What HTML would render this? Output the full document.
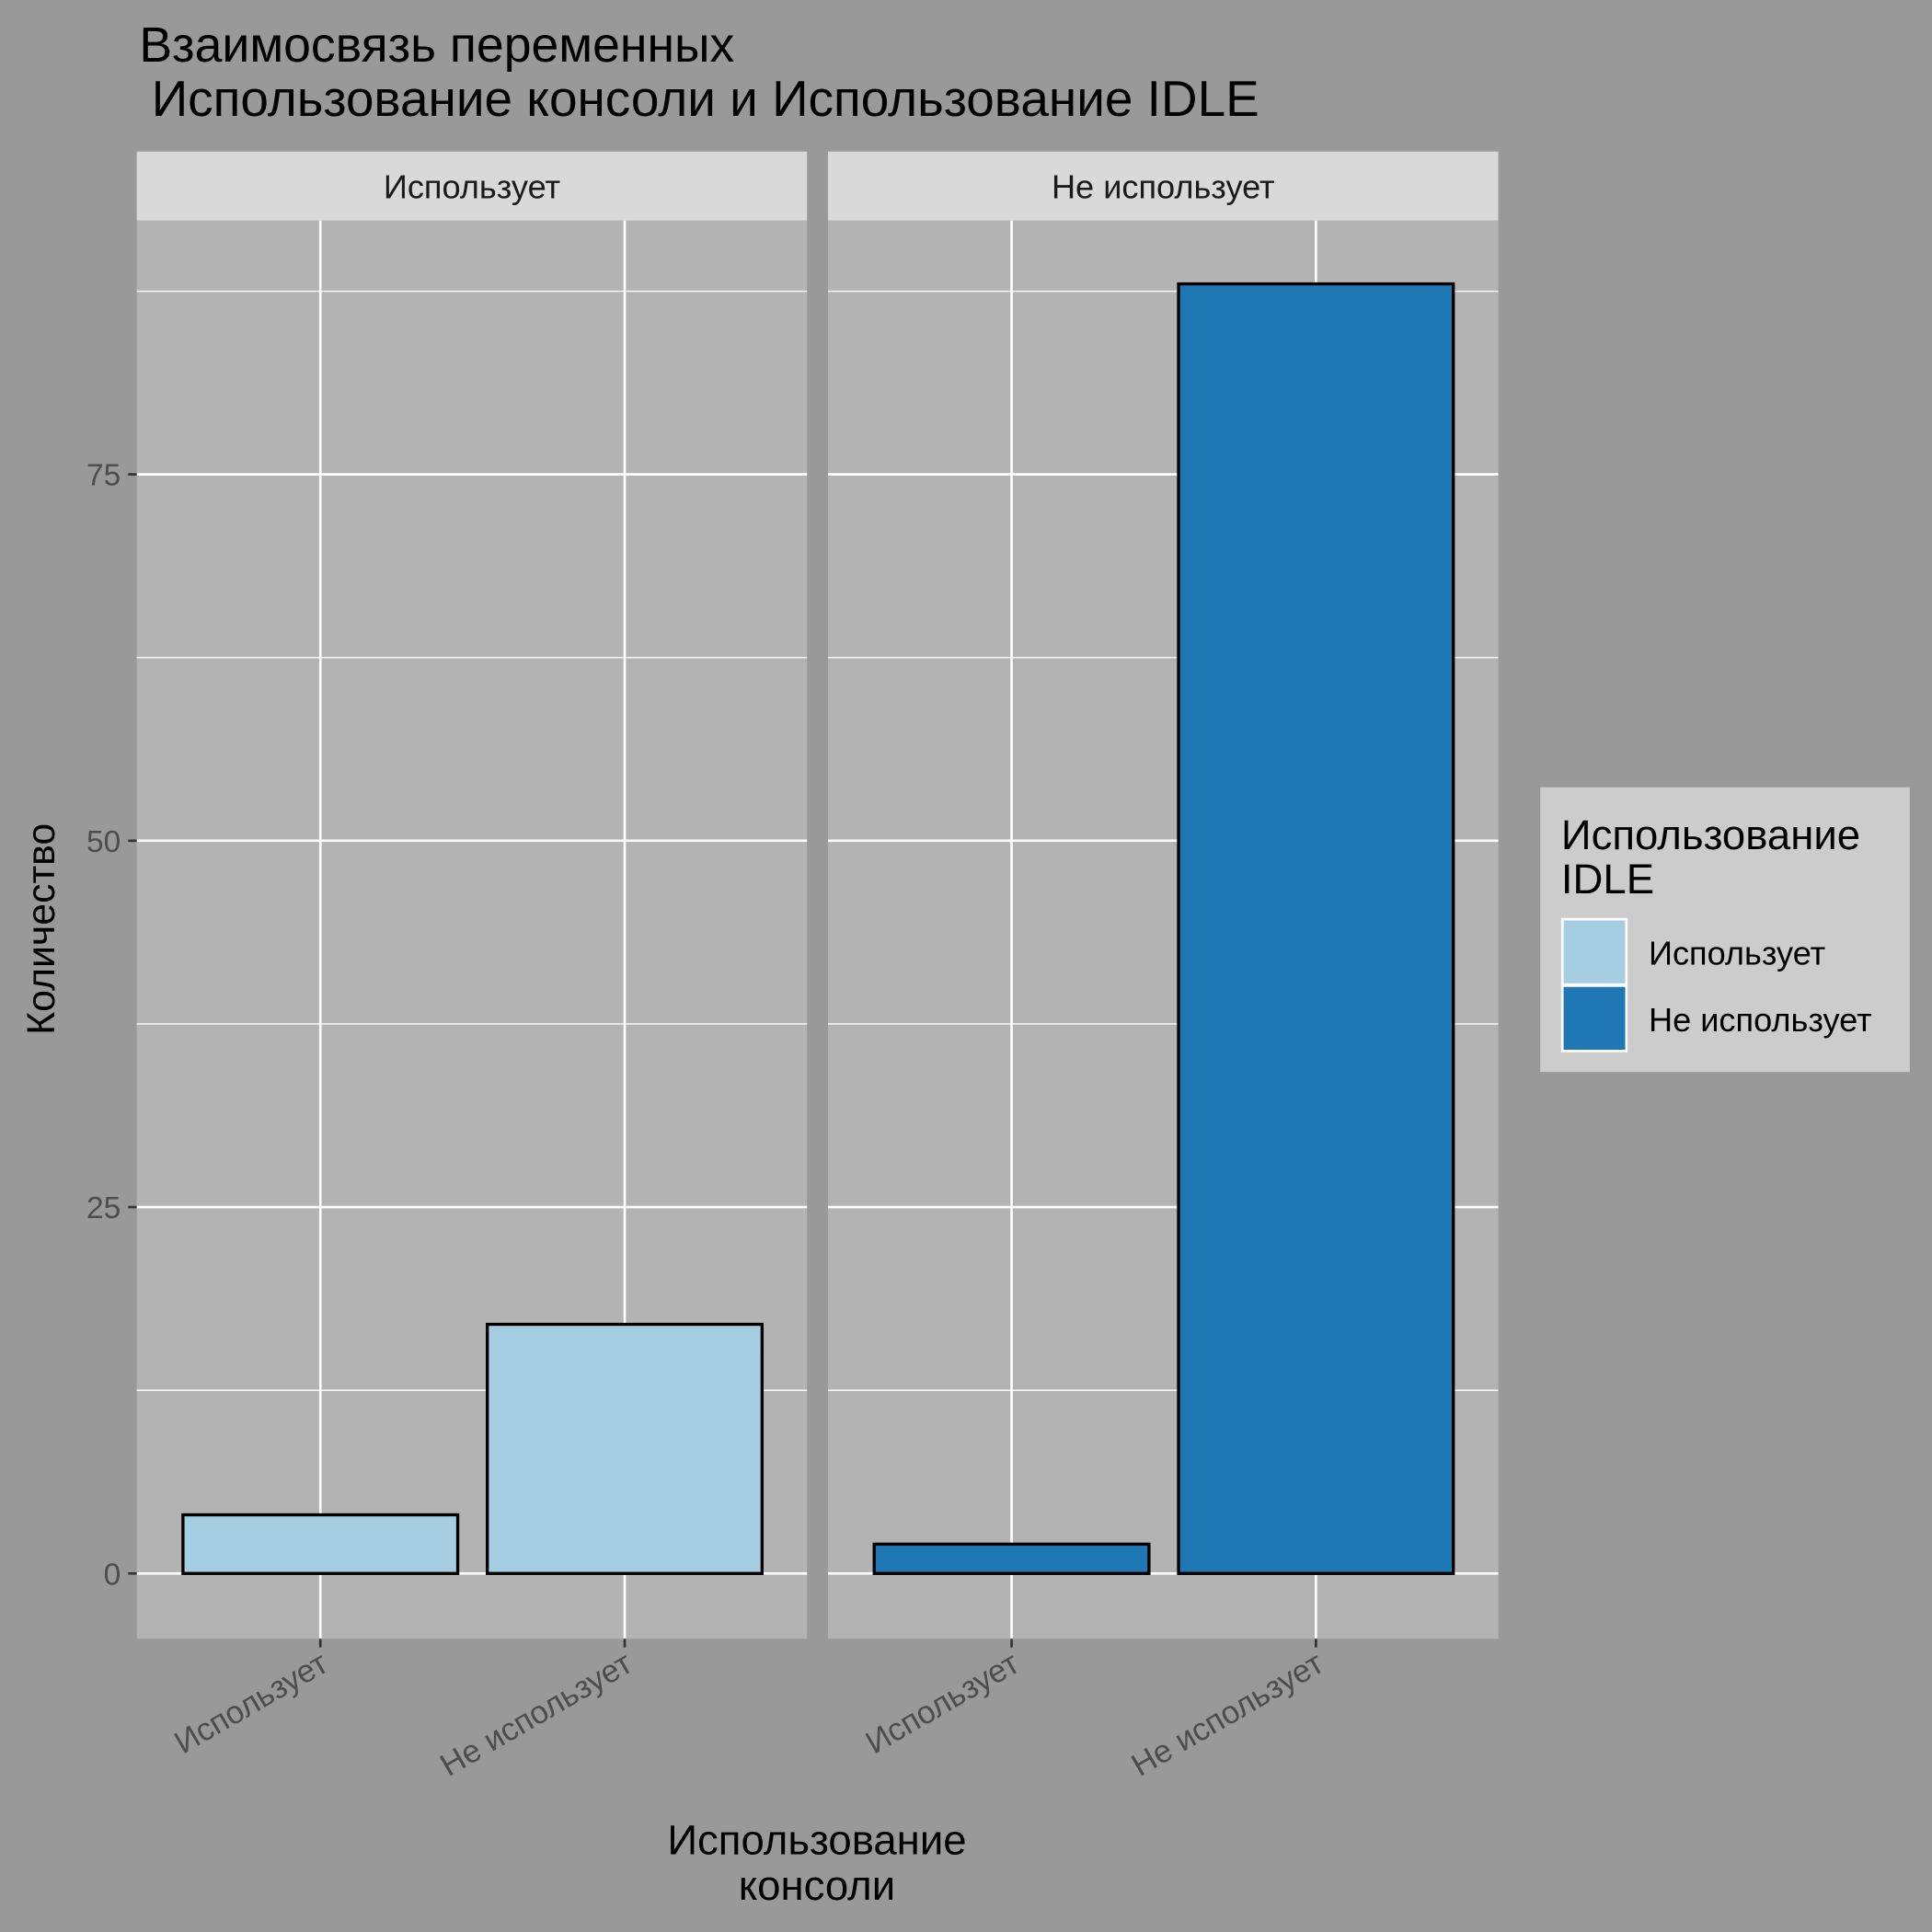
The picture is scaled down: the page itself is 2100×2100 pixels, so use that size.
<!DOCTYPE html>
<html><head><meta charset="utf-8"><style>
html,body{margin:0;padding:0;background:#999999;}
svg{display:block;font-family:"Liberation Sans","DejaVu Sans",sans-serif;}
</style></head><body>
<svg id="chart" width="2100" height="2100" viewBox="0 0 1568 1568" xmlns="http://www.w3.org/2000/svg">
<rect x="0" y="0" width="1568" height="1568" fill="#999999"/>
<text x="113" y="50" font-size="40" fill="#000">Взаимосвязь переменных</text>
<text x="123" y="94" font-size="41" fill="#000">Использование консоли и Использование IDLE</text>
<g id="panels"></g>
<text transform="translate(44,754) rotate(-90)" text-anchor="middle" font-size="32" fill="#000">Количество</text>
<text x="663" y="1505" text-anchor="middle" font-size="34" fill="#000">Использование</text>
<text x="663" y="1542" text-anchor="middle" font-size="34" fill="#000">консоли</text>
<g>
<rect x="1250" y="639" width="300" height="231" fill="#cccccc"/>
<text x="1267" y="689" font-size="34" fill="#000">Использование</text>
<text x="1267" y="725" font-size="34" fill="#000">IDLE</text>
<rect x="1268" y="746" width="52" height="53" fill="#a6cee3" stroke="#fff" stroke-width="2"/>
<rect x="1268" y="800" width="52" height="53" fill="#1f78b4" stroke="#fff" stroke-width="2"/>
<text x="1338" y="783" font-size="27" fill="#000">Использует</text>
<text x="1338" y="837" font-size="27" fill="#000">Не использует</text>
</g>
</svg>
<script>
const facets = ["Использует", "Не использует"];
const categories = ["Использует", "Не использует"];
const valuesFacet1 = [4, 17];
const valuesFacet2 = [2, 88];
const yTicks = [0, 25, 50, 75];
const yMinor = [12.5, 37.5, 62.5, 87.5];

const NS = "http://www.w3.org/2000/svg";
const colors = ["#a6cee3", "#1f78b4"];
const panelX = [111, 672], panelW = 544, plotTop = 179, plotBottom = 1330;
function yScale(v){ return 1277 - v * (1277 - 385) / 75; }
function xScale(i, p){ return panelX[p] + 149 + i * 247; }
function mk(tag, attrs, parent){ const e = document.createElementNS(NS, tag); for (const k in attrs) e.setAttribute(k, attrs[k]); parent.appendChild(e); return e; }
const g = document.getElementById("panels");
const allVals = [valuesFacet1, valuesFacet2];
facets.forEach((f, p) => {
  const x0 = panelX[p];
  const bg = mk("rect", {x:x0, y:plotTop, width:panelW, height:plotBottom-plotTop, fill:"#b3b3b3"}, g);
  
  
  yMinor.forEach(v => { const l = mk("line", {x1:x0, x2:x0+panelW, y1:yScale(v), y2:yScale(v), stroke:"#fff", "stroke-width":1}, g);
    
     });
  yTicks.forEach(v => { const l = mk("line", {x1:x0, x2:x0+panelW, y1:yScale(v), y2:yScale(v), stroke:"#fff", "stroke-width":2}, g);
    
     });
  categories.forEach((c, i) => { const l = mk("line", {x1:xScale(i,p), x2:xScale(i,p), y1:plotTop, y2:plotBottom, stroke:"#fff", "stroke-width":2}, g);
    
     });
  const st = mk("rect", {x:x0, y:123, width:panelW, height:56, fill:"#d9d9d9"}, g);
  
  
  const stt = mk("text", {x:x0+panelW/2, y:161, "text-anchor":"middle", "font-size":27, fill:"#1a1a1a"}, g);
  stt.textContent = f;
  
  
  categories.forEach((c, i) => {
    const v = allVals[p][i], cx = xScale(i,p);
    const b = mk("rect", {x:cx-111.5, y:yScale(v), width:223, height:yScale(0)-yScale(v), fill:colors[p], stroke:"#000", "stroke-width":2.5}, g);
    
    
    const t = mk("line", {x1:cx, x2:cx, y1:plotBottom, y2:plotBottom+7, stroke:"#333", "stroke-width":2}, g);
    
    
    const lb = mk("text", {transform:`translate(${cx+8},${plotBottom+25}) rotate(-30)`, "text-anchor":"end", "font-size":26, fill:"#4d4d4d"}, g);
    lb.textContent = c;
    
    
  });
});
yTicks.forEach(v => {
  const t = mk("line", {x1:104, x2:111, y1:yScale(v), y2:yScale(v), stroke:"#333", "stroke-width":2}, g);
  
  
  const lb = mk("text", {x:98, y:yScale(v)+9, "text-anchor":"end", "font-size":25, fill:"#4d4d4d"}, g);
  lb.textContent = v;
  
  
});
</script>
</body></html>
